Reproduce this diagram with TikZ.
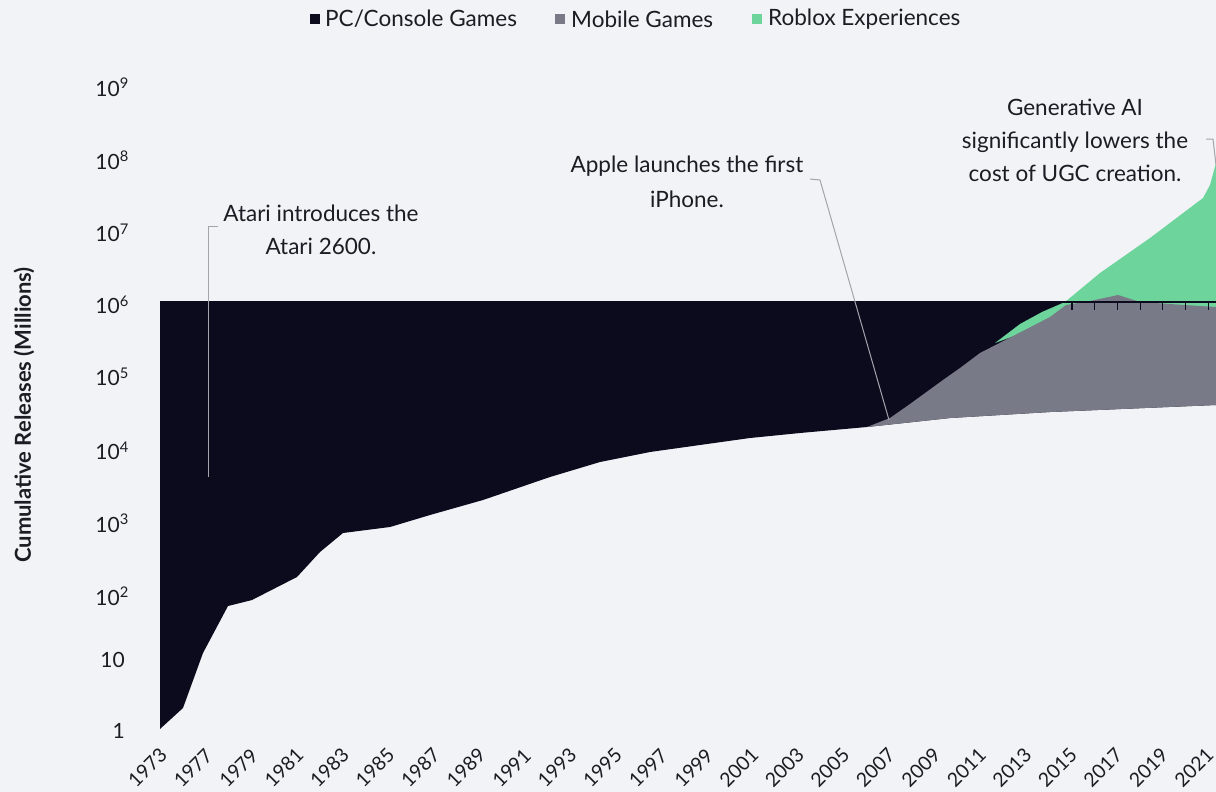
\documentclass[tikz,border=0pt]{standalone}
\usepackage{fontspec}
\setmainfont{Lato}
\definecolor{bg}{HTML}{F2F3F7}
\definecolor{darkc}{HTML}{0C0B1E}
\definecolor{mob}{HTML}{797A87}
\definecolor{rob}{HTML}{6DD49B}
\definecolor{txt}{HTML}{1C1C24}
\definecolor{ann}{HTML}{A3A4AC}
\tikzset{
  lbl/.style={text=txt, inner sep=0pt, font=\fontsize{22.5}{33}\selectfont, align=center},
  leg/.style={text=txt, inner sep=0pt, anchor=west, font=\fontsize{22.5}{26}\selectfont},
  sq/.style={minimum size=10pt, inner sep=0pt},
  ytick/.style={text=txt, inner sep=0pt, anchor=east, font=\fontsize{21}{24}\selectfont},
  xtick/.style={text=txt, inner sep=0pt, rotate=45, font=\fontsize{19.5}{21}\selectfont},
  annline/.style={draw=ann, line width=1pt},
}
\begin{document}
\begin{tikzpicture}[x=1pt,y=-1pt]
\fill[bg] (0,0) rectangle (1216,792);
\useasboundingbox (0,0) rectangle (1216,792);
% legend
\node[sq, fill=darkc] (s1) at (315,19) {};
\node[leg] (l1) at (325,19) {PC/Console Games};
\node[sq, fill=mob] (s2) at (560,19) {};
\node[leg] (l2) at (571,19) {Mobile Games};
\node[sq, fill=rob] (s3) at (757,19) {};
\node[leg] (l3) at (768,19) {Roblox Experiences};
% areas
\fill[darkc] (160,302) -- (160,729) -- (183,708) -- (203,653) -- (228,606) -- (252,600)
  -- (297,577) -- (320,552) -- (343,533) -- (390,527) -- (430,515) -- (483,500)
  -- (550,477) -- (600,462) -- (650,452) -- (700,445) -- (750,438) -- (800,433)
  -- (867,427) -- (950,418) -- (1050,412) -- (1216,405) -- (1216,302) -- cycle;
\fill[rob] (995,343) -- (1020,324) -- (1042,312) -- (1065,302) -- (1100,273) -- (1150,238)
  -- (1203,198) -- (1210,185) -- (1216,163) -- (1216,312) -- (1017,335) -- cycle;
\fill[mob] (867,427) -- (890,418) -- (910,404) -- (943,380) -- (960,368) -- (980,353)
  -- (1017,334) -- (1050,317) -- (1066,305) -- (1090,301) -- (1118,295) -- (1140,302)
  -- (1200,306) -- (1216,307) -- (1216,405) -- (1050,412) -- (950,418) -- cycle;
\draw[draw=darkc, line width=1.2pt] (160,302) -- (1216,302);
\foreach \k in {0,...,6} {\draw[darkc, line width=1.2pt] (1072+22.7*\k,302) -- (1072+22.7*\k,310);}
% y axis
\node[ytick] (y9) at (129,87) {10\textsuperscript{9}};
\node[ytick] (y8) at (129,160) {10\textsuperscript{8}};
\node[ytick] (y7) at (129,233) {10\textsuperscript{7}};
\node[ytick] (y6) at (129,305) {10\textsuperscript{6}};
\node[ytick] (y5) at (129,377) {10\textsuperscript{5}};
\node[ytick] (y4) at (129,451) {10\textsuperscript{4}};
\node[ytick] (y3) at (129,523) {10\textsuperscript{3}};
\node[ytick] (y2) at (129,596) {10\textsuperscript{2}};
\node[ytick] (y1) at (125,660) {10};
\node[ytick] (y0) at (125,731) {1};
\node[rotate=90, text=txt, inner sep=0pt, font=\fontsize{22}{24}\selectfont\bfseries] (ytitle) at (24,415) {Cumulative Releases (Millions)};
% x axis
\node[xtick] (x0) at (147.5,768) {1973};
\foreach \yr [count=\i] in {1977,1979,...,2021} {
  \node[xtick] (x\i) at (147.5+45.5*\i,768) {\yr};
}
% annotations
\node[lbl] (atari) at (321,230) {Atari introduces the\\Atari 2600.};
\coordinate (a1) at (218,226);
\coordinate (a2) at (208,226);
\coordinate (a3) at (208,477);
\draw[annline] (a1) -- (a2) -- (a3);
\node[lbl, font=\fontsize{22.5}{35}\selectfont] (apple) at (687,182) {Apple launches the first\\iPhone.};
\coordinate (b1) at (810,179);
\coordinate (b2) at (820,180);
\coordinate (b3) at (889,420);
\draw[annline] (b1) -- (b2) -- (b3);
\node[lbl] (genai) at (1075,140) {Generative AI\\significantly lowers the\\cost of UGC creation.};
\coordinate (c1) at (1206,139);
\coordinate (c2) at (1213,139);
\coordinate (c3) at (1216,165);
\draw[annline] (c1) -- (c2) -- (c3);
\end{tikzpicture}
\end{document}
